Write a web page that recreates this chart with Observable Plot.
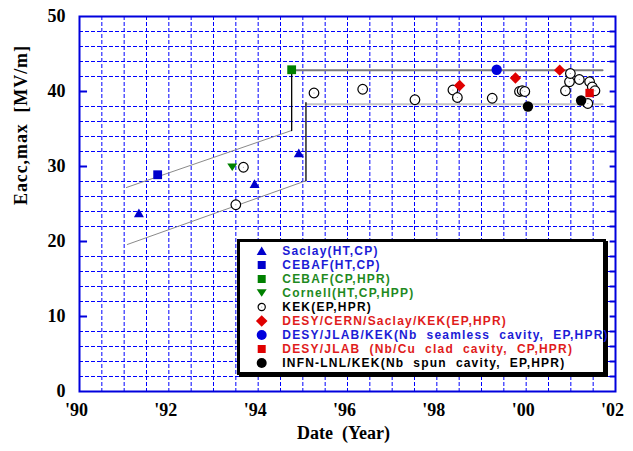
<!DOCTYPE html>
<html><head><meta charset="utf-8">
<script src="https://cdn.jsdelivr.net/npm/d3@7"></script>
<script src="https://cdn.jsdelivr.net/npm/@observablehq/plot@0.6"></script>
<style>
body{margin:0;background:#fff;}
#wrap{position:relative;width:633px;height:451px;overflow:hidden;background:#fff;}
#legend{position:absolute;left:237px;top:239px;width:369px;height:136px;border:3px solid #000;box-shadow:2px 2px 0 #000;background:#fff;box-sizing:border-box;padding-top:1.7px;}
.row{display:flex;align-items:center;height:14px;}
.row svg{flex:none;}
.row span{font-family:"Liberation Sans",Arial,sans-serif;font-weight:bold;font-size:12px;letter-spacing:1.2px;white-space:pre;line-height:14px;}
</style>
</head><body>
<div id="wrap"></div>
<script>
// ---- data ----
const saclayX = [91.33, 93.92, 94.91];
const saclayY = [23.8, 27.7, 31.8];
const cebafHtX = [91.75];
const cebafHtY = [28.9];
const cebafHprX = [94.75];
const cebafHprY = [42.9];
const cornellX = [93.42];
const cornellY = [29.9];
const kekX = [93.67, 93.50, 95.25, 96.34, 97.51, 98.36, 98.46, 99.24, 99.85, 99.91, 99.97, 100.88, 100.97, 100.99, 101.19, 101.42, 101.48, 101.54, 101.38];
const kekY = [29.9, 24.9, 39.8, 40.3, 38.9, 40.2, 39.2, 39.1, 40.0, 40.1, 40.0, 40.1, 41.3, 42.4, 41.6, 41.3, 40.6, 40.1, 38.4];
const desyX = [98.51, 99.76, 100.75];
const desyY = [40.8, 41.8, 42.85];
const seamlessX = [99.34];
const seamlessY = [42.9];
const cladX = [101.42];
const cladY = [39.8];
const spunX = [100.04, 101.23];
const spunY = [38.0, 38.8];

// envelope lines
const upperSlopeX = [91.05, 94.75];
const upperSlopeY = [27.2, 34.8];
const upperStepX = [94.75, 94.75];
const upperStepY = [34.8, 42.85];
const upperFlatX = [94.75, 101.71];
const upperFlatY = [42.85, 42.85];
const lowerSlopeX = [91.07, 95.07];
const lowerSlopeY = [19.6, 28.1];
const lowerStepX = [95.07, 95.07];
const lowerStepY = [28.1, 38.5];
const lowerFlatX = [95.07, 101.71];
const lowerFlatY = [38.3, 38.3];

// ticks
const xTickVals = [90, 92, 94, 96, 98, 100, 102];
const xTickLabels = ["'90", "'92", "'94", "'96", "'98", "'00", "'02"];
const yTickVals = [0, 10, 20, 30, 40, 50];
const yTickLabels = ["0", "10", "20", "30", "40", "50"];
const xGridVals = d3.range(90.5, 102, 0.5);
const yGridVals = d3.range(2, 50, 2).filter(v => v % 10 !== 0);
const yMinorRight = d3.range(2, 50, 2);
const yMajorLeft = [10, 20, 30, 40];

const legendLabels = [
  "Saclay(HT,CP)", "CEBAF(HT,CP)", "CEBAF(CP,HPR)", "Cornell(HT,CP,HPP)", "KEK(EP,HPR)",
  "DESY/CERN/Saclay/KEK(EP,HPR)", "DESY/JLAB/KEK(Nb  seamless  cavity,  EP,HPR)",
  "DESY/JLAB  (Nb/Cu  clad  cavity,  CP,HPR)", "INFN-LNL/KEK(Nb  spun  cavity,  EP,HPR)"
];
const legendTextColors = ["#1c1cd6", "#1c1cd6", "#1f8a1f", "#1f8a1f", "#000", "#e01c1c", "#1c1cd6", "#e01c1c", "#000"];
const legendSymbols = ["triUp", "square", "square", "triDown", "open", "diamond", "disc", "square", "disc"];
const legendSymColors = ["#0000cc", "#0000cc", "#008000", "#008000", "#000", "#e00000", "#0000dd", "#e00000", "#000"];

// ---- symbols ----
const triUp = {draw(c){c.moveTo(0,-4.4);c.lineTo(5,4.2);c.lineTo(-5,4.2);c.closePath();}};
const triDown = {draw(c){c.moveTo(0,3.8);c.lineTo(5,-3.8);c.lineTo(-5,-3.8);c.closePath();}};
const sq = {draw(c){c.rect(-4.4,-4.4,8.8,8.8);}};
const sqSmall = {draw(c){c.rect(-4.2,-4.2,8.4,8.4);}};
const dia = {draw(c){c.moveTo(0,-5.7);c.lineTo(5.7,0);c.lineTo(0,5.7);c.lineTo(-5.7,0);c.closePath();}};

const pts = (xs, ys) => xs.map((x, i) => ({x, y: ys[i]}));
const blue = "#0000dd";
const gridBlue = "#0000ff";
const serif = "'Liberation Serif','Times New Roman',serif";

const plot = Plot.plot({
  width: 633, height: 451,
  marginLeft: 79, marginRight: 18, marginTop: 16, marginBottom: 60,
  x: {domain: [90, 102], axis: null},
  y: {domain: [0, 50], axis: null},
  style: {background: "#fff"},
  marks: [
    Plot.ruleX(xGridVals, {x: d => d, stroke: gridBlue, strokeWidth: 1, strokeDasharray: "4,2"}),
    Plot.ruleY(yGridVals, {y: d => d, stroke: gridBlue, strokeWidth: 1, strokeDasharray: "4,2"}),
    Plot.ruleY(yMajorLeft, {y: d => d, x1: 90, x2: 90.18, stroke: blue, strokeWidth: 2}),
    Plot.ruleY(yMinorRight, {y: d => d, x1: 101.88, x2: 102, stroke: blue, strokeWidth: 2}),
    Plot.frame({stroke: blue, strokeWidth: 2}),
    // envelope lines
    Plot.line(pts(upperSlopeX, upperSlopeY), {x: "x", y: "y", stroke: "#8a8a8a", strokeWidth: 1}),
    Plot.line(pts(lowerSlopeX, lowerSlopeY), {x: "x", y: "y", stroke: "#8a8a8a", strokeWidth: 1}),
    Plot.line(pts(upperFlatX, upperFlatY), {x: "x", y: "y", stroke: "#7a7a7a", strokeWidth: 2}),
    Plot.line(pts(lowerFlatX, lowerFlatY), {x: "x", y: "y", stroke: "#c4c4c4", strokeWidth: 2}),
    Plot.line(pts(upperStepX, upperStepY), {x: "x", y: "y", stroke: "#000", strokeWidth: 1.3}),
    Plot.line(pts(lowerStepX, lowerStepY), {x: "x", y: "y", stroke: "#000", strokeWidth: 1.3}),
    // data
    Plot.dot(pts(kekX, kekY), {x: "x", y: "y", r: 4.8, fill: "#fff", stroke: "#000", strokeWidth: 1.2}),
    Plot.dot(pts(kekX, kekY), {x: "x", y: "y", r: 0.6, fill: "#999"}),
    Plot.dot(pts(saclayX, saclayY), {x: "x", y: "y", symbol: triUp, r: 5, fill: "#0000cc"}),
    Plot.dot(pts(cebafHtX, cebafHtY), {x: "x", y: "y", symbol: sq, r: 5, fill: "#0000cc"}),
    Plot.dot(pts(cebafHprX, cebafHprY), {x: "x", y: "y", symbol: sq, r: 5, fill: "#008000"}),
    Plot.dot(pts(cornellX, cornellY), {x: "x", y: "y", symbol: triDown, r: 5, fill: "#008000"}),
    Plot.dot(pts(desyX, desyY), {x: "x", y: "y", symbol: dia, r: 5, fill: "#e00000"}),
    Plot.dot(pts(seamlessX, seamlessY), {x: "x", y: "y", r: 5.2, fill: "#0000dd"}),
    Plot.dot(pts(cladX, cladY), {x: "x", y: "y", symbol: sqSmall, r: 5, fill: "#e00000"}),
    Plot.dot(pts(spunX, spunY), {x: "x", y: "y", r: 5.2, fill: "#000"}),
    // tick labels & axis titles
    Plot.text(yTickVals, {y: d => d, text: (d, i) => yTickLabels[i], frameAnchor: "left", textAnchor: "end", dx: -14,
      fontSize: 18, fontWeight: "bold", fontFamily: serif, fill: "#000"}),
    Plot.text(xTickVals, {x: d => d, text: (d, i) => xTickLabels[i], frameAnchor: "bottom", dy: 24, dx: -3,
      fontSize: 18, fontWeight: "bold", fontFamily: serif, fill: "#000"}),
    Plot.text(["Date  (Year)"], {frameAnchor: "bottom", text: d => d, dy: 47, dx: -4,
      fontSize: 18, fontWeight: "bold", fontFamily: serif, fill: "#000"}),
    Plot.text(["Eacc,max  [MV/m]"], {frameAnchor: "left", text: d => d, dx: -58, dy: 1, rotate: -90,
      fontSize: 18, fontWeight: "bold", fontFamily: serif, fill: "#000"})
  ]
});
const wrap = document.getElementById("wrap");
wrap.appendChild(plot);
d3.select(plot).selectAll("text").filter(function(){ return this.textContent === "Eacc,max  [MV/m]"; })
  .style("letter-spacing", "0.9px");

// legend
const legend = document.createElement("div");
legend.id = "legend";
const symSvg = (kind, color) => {
  const cx = 21.7, cy = 7;
  let shape = "";
  if (kind === "triUp") shape = `<path d="M${cx},${cy-4.6}L${cx+5},${cy+4}L${cx-5},${cy+4}Z" fill="${color}"/>`;
  else if (kind === "triDown") shape = `<path d="M${cx},${cy+3.8}L${cx+5},${cy-3.8}L${cx-5},${cy-3.8}Z" fill="${color}"/>`;
  else if (kind === "square") shape = `<rect x="${cx-4}" y="${cy-4}" width="8" height="8" fill="${color}"/>`;
  else if (kind === "diamond") shape = `<path d="M${cx},${cy-5.8}L${cx+5.8},${cy}L${cx},${cy+5.8}L${cx-5.8},${cy}Z" fill="${color}"/>`;
  else if (kind === "disc") shape = `<circle cx="${cx}" cy="${cy}" r="5" fill="${color}"/>`;
  else if (kind === "open") shape = `<circle cx="${cx}" cy="${cy}" r="3.6" fill="#fff" stroke="#000" stroke-width="1.2"/><circle cx="${cx}" cy="${cy}" r="0.6" fill="#999"/>`;
  return `<svg width="42.3" height="14" viewBox="0 0 42.3 14">${shape}</svg>`;
};
legendLabels.forEach((lab, i) => {
  const row = document.createElement("div");
  row.className = "row";
  row.innerHTML = symSvg(legendSymbols[i], legendSymColors[i]);
  const span = document.createElement("span");
  span.textContent = lab;
  span.style.color = legendTextColors[i];
  row.appendChild(span);
  legend.appendChild(row);
});
wrap.appendChild(legend);
</script>
</body></html>
